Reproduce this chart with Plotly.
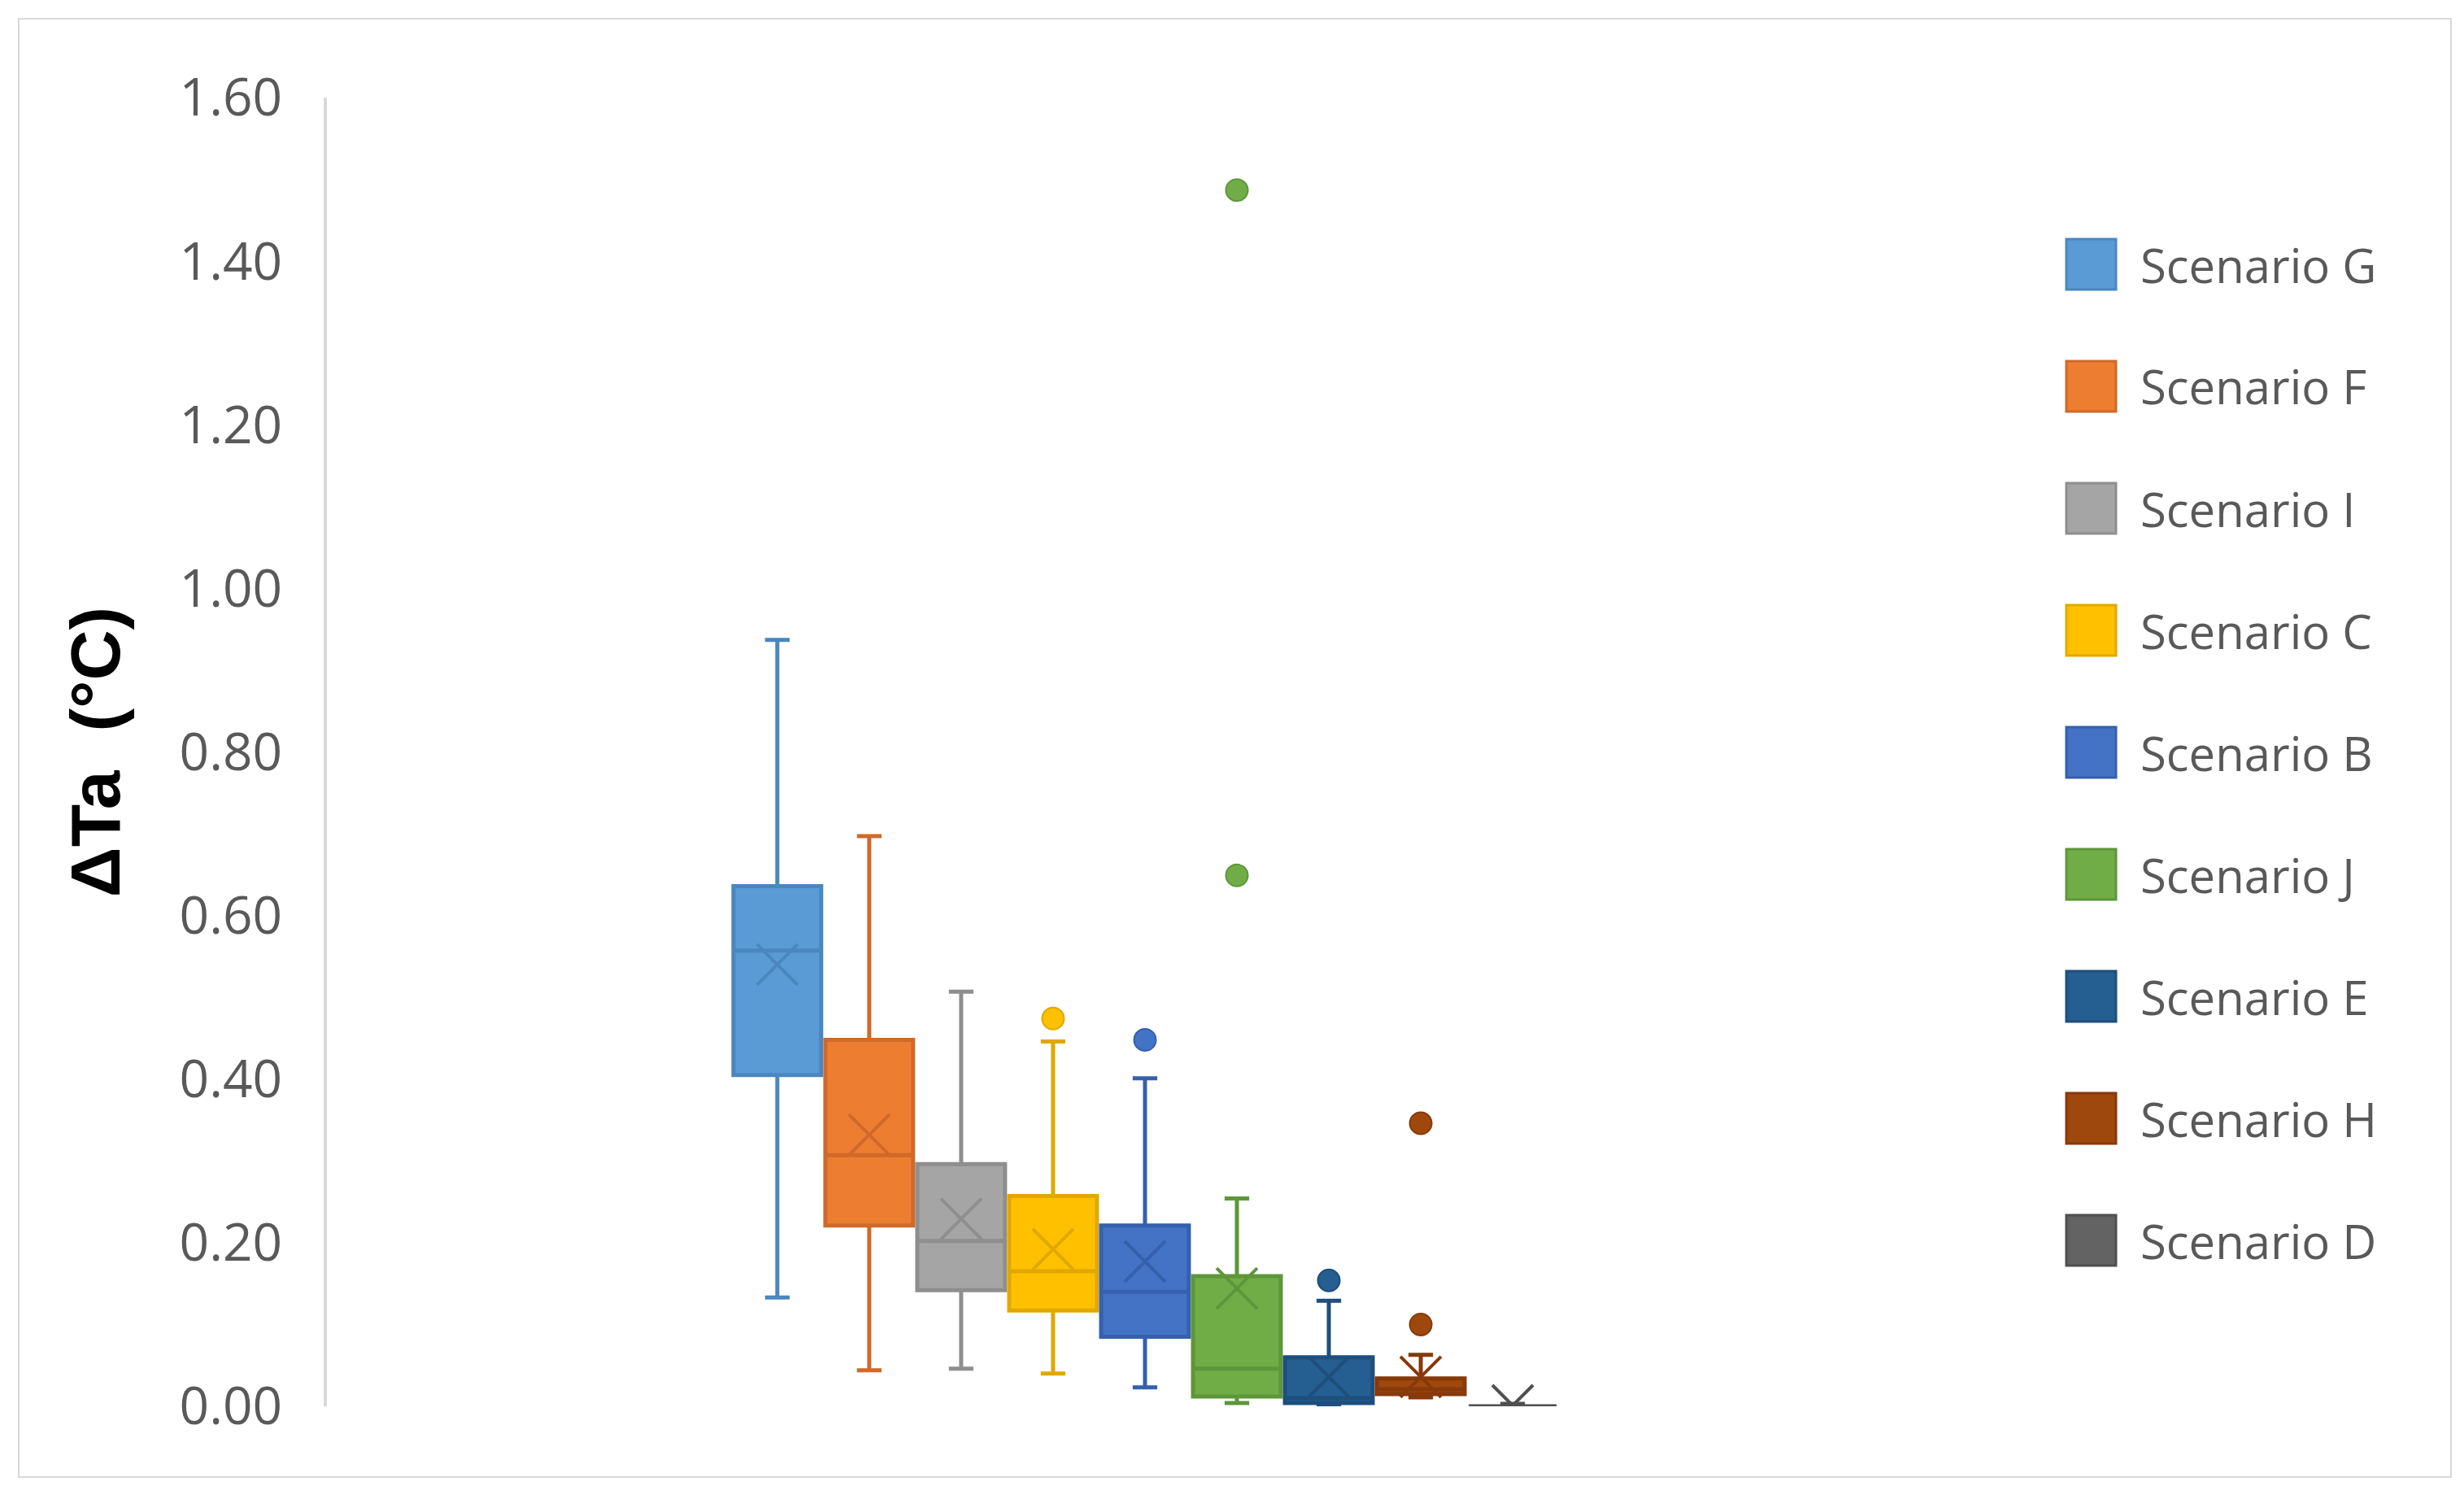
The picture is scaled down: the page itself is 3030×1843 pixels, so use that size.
import plotly.graph_objects as go

# box plot of air temperature reduction per scenario
scenarios = ['Scenario G', 'Scenario F', 'Scenario I', 'Scenario C', 'Scenario B',
             'Scenario J', 'Scenario E', 'Scenario H', 'Scenario D']
lower = [0.133, 0.044, 0.046, 0.040, 0.023, 0.004, 0.002, 0.011, 0.000]
q1 = [0.405, 0.221, 0.142, 0.117, 0.085, 0.012, 0.004, 0.015, 0.000]
median = [0.557, 0.307, 0.202, 0.165, 0.140, 0.046, 0.010, 0.021, 0.000]
q3 = [0.636, 0.448, 0.296, 0.257, 0.221, 0.159, 0.060, 0.034, 0.000]
upper = [0.937, 0.697, 0.507, 0.446, 0.401, 0.254, 0.129, 0.063, 0.003]
mean = [0.540, 0.332, 0.229, 0.192, 0.177, 0.144, 0.036, 0.036, 0.001]

outlier_x = ['Scenario C', 'Scenario B', 'Scenario J', 'Scenario J',
             'Scenario E', 'Scenario H', 'Scenario H']
outlier_y = [0.474, 0.448, 1.487, 0.649, 0.154, 0.346, 0.100]

fill_colors = ['#5B9BD5', '#ED7D31', '#A5A5A5', '#FFC000', '#4472C4',
               '#70AD47', '#255E91', '#9E480E', '#636363']
line_colors = ['#4A86C0', '#D0692A', '#8E8E8E', '#E0A800', '#3560AE',
               '#5E963A', '#1D4E7C', '#87390A', '#4F4F4F']

yticks = [0, 0.2, 0.4, 0.6, 0.8, 1.0, 1.2, 1.4, 1.6]

# pixel layout (page coords, the html body has an 8px margin)
OFF = 8
W, H = 3030, 1843
L = 402 - OFF
T = 120 - OFF
R = W - (2414 - OFF)
B = H - (1729 - OFF)
pw = W - L - R
ph = H - T - B


def px(x):
    return (x - OFF - L) / pw


def py(y):
    return (H - B - (y - OFF)) / ph


fig = go.Figure()

for i, name in enumerate(scenarios):
    fig.add_trace(go.Box(
        x=[name], q1=[q1[i]], median=[median[i]], q3=[q3[i]],
        lowerfence=[lower[i]], upperfence=[upper[i]],
        name=name, fillcolor=fill_colors[i],
        line=dict(color=line_colors[i], width=5),
        whiskerwidth=0.28, boxpoints=False, showlegend=False,
        hoverinfo='y'))

color_of = dict(zip(scenarios, fill_colors))
dark_of = dict(zip(scenarios, line_colors))

# outliers
fig.add_trace(go.Scatter(
    x=outlier_x, y=outlier_y, mode='markers', showlegend=False,
    marker=dict(size=27, symbol='circle',
                color=[color_of[s] for s in outlier_x],
                line=dict(width=2, color=[dark_of[s] for s in outlier_x]))))

# mean markers
fig.add_trace(go.Scatter(
    x=scenarios, y=mean, mode='markers', showlegend=False,
    marker=dict(size=50, symbol='x-thin-open', color=line_colors,
                line=dict(width=4, color=line_colors))))

# hand built legend (big swatches like the original)
shapes = []
annotations = []
leg_top = 325
leg_step = 150
for i, name in enumerate(scenarios):
    yc = leg_top + i * leg_step
    shapes.append(dict(type='rect', xref='paper', yref='paper',
                       x0=px(2541), x1=px(2602), y0=py(yc + 31), y1=py(yc - 31),
                       fillcolor=fill_colors[i],
                       line=dict(color=line_colors[i], width=3)))
    annotations.append(dict(xref='paper', yref='paper', x=px(2630), y=py(yc),
                            text=name, showarrow=False, xanchor='left', yanchor='middle',
                            font=dict(family='Open Sans', size=58, color='#595959')))

# outer chart border
shapes.append(dict(type='rect', xref='paper', yref='paper',
                   x0=px(23), x1=px(3014), y0=py(1816), y1=py(23),
                   line=dict(color='#D9D9D9', width=2), fillcolor='rgba(0,0,0,0)',
                   layer='below'))

fig.update_layout(
    width=W, height=H,
    margin=dict(l=L, r=R, t=T, b=B),
    paper_bgcolor='white', plot_bgcolor='white',
    boxmode='overlay', boxgap=0.045, boxgroupgap=0,
    showlegend=False,
    shapes=shapes, annotations=annotations,
    xaxis=dict(type='category', categoryorder='array', categoryarray=scenarios,
               range=[-4.9, 12.9], showticklabels=False, showline=False,
               showgrid=False, zeroline=False, fixedrange=True),
    yaxis=dict(range=[0, 1.6], tickvals=yticks, tickformat='.2f',
               showgrid=False, zeroline=False,
               showline=True, linecolor='#D9D9D9', linewidth=4,
               ticks='', ticklabelstandoff=38,
               tickfont=dict(family='Open Sans', size=64, color='#595959'),
               title=dict(text='ΔTa  (°C)', standoff=46,
                          font=dict(family='Liberation Sans', size=86,
                                    color='black', weight='bold'))),
)

fig.write_html('out.html')
